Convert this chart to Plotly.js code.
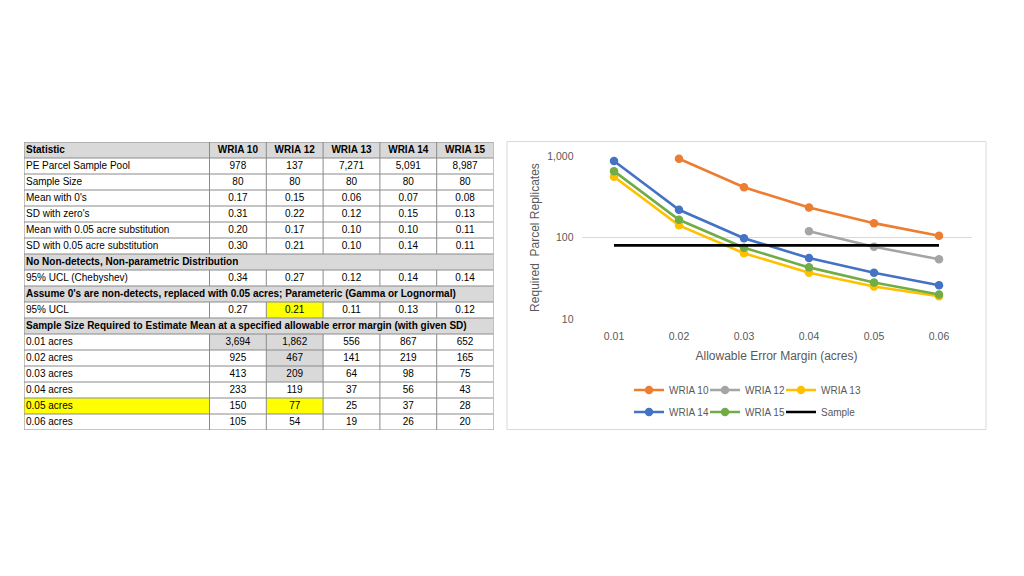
<!DOCTYPE html>
<html>
<head>
<meta charset="utf-8">
<script src="https://cdn.plot.ly/plotly-3.0.1.min.js"></script>
<style>html,body{margin:0;padding:0;background:#fff;}#chart{width:1024px;height:576px;}</style>
</head>
<body>
<div id="chart"></div>
<script>
// ---------- DATA ----------
const wrias = ['WRIA 10', 'WRIA 12', 'WRIA 13', 'WRIA 14', 'WRIA 15'];
const statLabels = ['PE Parcel Sample Pool', 'Sample Size', "Mean with 0's", "SD with zero's",
  'Mean with 0.05 acre substitution', 'SD with 0.05 acre substitution'];
const samplePool = [978, 137, 7271, 5091, 8987];
const sampleSize = [80, 80, 80, 80, 80];
const meanWithZeros = [0.17, 0.15, 0.06, 0.07, 0.08];
const sdWithZeros = [0.31, 0.22, 0.12, 0.15, 0.13];
const meanSubstituted = [0.20, 0.17, 0.10, 0.10, 0.11];
const sdSubstituted = [0.30, 0.21, 0.10, 0.14, 0.11];
const section1 = 'No Non-detects, Non-parametric Distribution';
const uclChebyshevLabel = '95% UCL (Chebyshev)';
const uclChebyshev = [0.34, 0.27, 0.12, 0.14, 0.14];
const section2 = "Assume 0's are non-detects, replaced with 0.05 acres; Parameteric (Gamma or Lognormal)";
const uclParamLabel = '95% UCL';
const uclParametric = [0.27, 0.21, 0.11, 0.13, 0.12];
const section3 = 'Sample Size Required to Estimate Mean at a specified allowable error margin (with given SD)';
const errorMargins = [0.01, 0.02, 0.03, 0.04, 0.05, 0.06];
const marginLabels = ['0.01 acres', '0.02 acres', '0.03 acres', '0.04 acres', '0.05 acres', '0.06 acres'];
const required10 = [3694, 925, 413, 233, 150, 105];
const required12 = [1862, 467, 209, 119, 77, 54];
const required13 = [556, 141, 64, 37, 25, 19];
const required14 = [867, 219, 98, 56, 37, 26];
const required15 = [652, 165, 75, 43, 28, 20];
// values left out of the chart (shaded grey in the table): index lists per WRIA
const excluded10 = [0];
const excluded12 = [0, 1, 2];
const sampleLine = [80, 80, 80, 80, 80, 80];
const axisTitleX = 'Allowable Error Margin (acres)';
const axisTitleY = 'Required  Parcel Replicates';

// ---------- TABLE GEOMETRY (layout) ----------
const firstColW = 185.5, colW = 56.8;
const tableW = firstColW + colW * wrias.length;
const colEdges = [0, firstColW];
for (let i = 1; i <= wrias.length; i++) colEdges.push(firstColW + colW * i);
const colCenters = wrias.map((_, i) => firstColW + colW * (i + 0.5));

const fmt2 = v => v.toFixed(2);
const fmtInt = v => v.toLocaleString('en-US');

const requiredAll = [required10, required12, required13, required14, required15];
const excludedAll = [excluded10, excluded12, [], [], []];
const rows = [];
rows.push({type: 'header', label: 'Statistic', values: wrias});
rows.push({type: 'data', label: statLabels[0], values: samplePool.map(fmtInt)});
rows.push({type: 'data', label: statLabels[1], values: sampleSize.map(fmtInt)});
rows.push({type: 'data', label: statLabels[2], values: meanWithZeros.map(fmt2)});
rows.push({type: 'data', label: statLabels[3], values: sdWithZeros.map(fmt2)});
rows.push({type: 'data', label: statLabels[4], values: meanSubstituted.map(fmt2)});
rows.push({type: 'data', label: statLabels[5], values: sdSubstituted.map(fmt2)});
rows.push({type: 'section', label: section1});
rows.push({type: 'data', label: uclChebyshevLabel, values: uclChebyshev.map(fmt2)});
rows.push({type: 'section', label: section2});
rows.push({type: 'data', label: uclParamLabel, values: uclParametric.map(fmt2), yellow: [1]});
rows.push({type: 'section', label: section3});
errorMargins.forEach((m, j) => {
  const r = {type: 'data', label: marginLabels[j], values: requiredAll.map(a => fmtInt(a[j])), grey: [], yellow: []};
  excludedAll.forEach((ex, c) => { if (ex.includes(j)) r.grey.push(c); });
  if (m === 0.05) { r.yellow = [1]; r.labelYellow = true; }
  rows.push(r);
});
const nRows = rows.length;

const GREY = '#d9d9d9', YELLOW = '#ffff00', BORDER = '#8a8a8a';
const shapes = [];
function rect(x0, x1, y0, y1, color) {
  shapes.push({type: 'rect', xref: 'x2', yref: 'y2', x0, x1, y0, y1, fillcolor: color, line: {width: 0}, layer: 'below'});
}
function line(x0, x1, y0, y1) {
  shapes.push({type: 'line', xref: 'x2', yref: 'y2', x0, x1, y0, y1, line: {color: BORDER, width: 1}, layer: 'below'});
}
rows.forEach((r, i) => {
  if (r.type === 'header' || r.type === 'section') rect(0, tableW, i, i + 1, GREY);
  if (r.labelYellow) rect(colEdges[0], colEdges[1], i, i + 1, YELLOW);
  (r.grey || []).forEach(c => rect(colEdges[c + 1], colEdges[c + 2], i, i + 1, GREY));
  (r.yellow || []).forEach(c => rect(colEdges[c + 1], colEdges[c + 2], i, i + 1, YELLOW));
});
for (let i = 0; i <= nRows; i++) line(0, tableW, i, i);
rows.forEach((r, i) => {
  if (r.type === 'section') { line(0, 0, i, i + 1); line(tableW, tableW, i, i + 1); }
  else colEdges.forEach(x => line(x, x, i, i + 1));
});

const TFONT = 'Liberation Sans, Arial, sans-serif';
const tableTraces = [];
const lblX = [], lblY = [], lblT = [], boldX = [], boldY = [], boldT = [];
rows.forEach((r, i) => {
  if (r.type === 'header' || r.type === 'section') { boldX.push(2); boldY.push(i + 0.5); boldT.push('<b>' + r.label + '</b>'); }
  else { lblX.push(2); lblY.push(i + 0.5); lblT.push(r.label); }
});
tableTraces.push({type: 'scatter', mode: 'text', x: lblX, y: lblY, text: lblT, textposition: 'middle right',
  textfont: {family: TFONT, size: 10, color: '#000'}, xaxis: 'x2', yaxis: 'y2', showlegend: false, hoverinfo: 'skip', cliponaxis: false});
tableTraces.push({type: 'scatter', mode: 'text', x: boldX, y: boldY, text: boldT, textposition: 'middle right',
  textfont: {family: TFONT, size: 10, color: '#000'}, xaxis: 'x2', yaxis: 'y2', showlegend: false, hoverinfo: 'skip', cliponaxis: false});
const vX = [], vY = [], vT = [];
rows.forEach((r, i) => {
  if (!r.values) return;
  r.values.forEach((v, c) => { vX.push(colCenters[c]); vY.push(i + 0.5); vT.push(r.type === 'header' ? '<b>' + v + '</b>' : v); });
});
tableTraces.push({type: 'scatter', mode: 'text', x: vX, y: vY, text: vT, textposition: 'middle center',
  textfont: {family: TFONT, size: 10, color: '#000'}, xaxis: 'x2', yaxis: 'y2', showlegend: false, hoverinfo: 'skip', cliponaxis: false});

// ---------- CHART ----------
const masked = (arr, ex) => arr.map((v, i) => ex.includes(i) ? null : v);
const seriesColors = ['#ED7D31', '#A5A5A5', '#FFC000', '#4472C4', '#70AD47'];
const legendIds = ['legend', 'legend2', 'legend3', 'legend4', 'legend5', 'legend6'];
const chartTraces = wrias.map((name, k) => ({
  type: 'scatter', mode: 'lines+markers', name,
  x: errorMargins, y: masked(requiredAll[k], excludedAll[k]),
  line: {color: seriesColors[k], width: 2.6}, marker: {color: seriesColors[k], size: 8.5, symbol: 'circle'},
  legend: legendIds[k], connectgaps: false, hoverinfo: 'x+y+name', cliponaxis: false
}));
chartTraces.push({type: 'scatter', mode: 'lines', name: 'Sample', x: errorMargins, y: sampleLine,
  line: {color: '#000', width: 2.6}, legend: legendIds[5]});

const W = 1024, H = 576;
const CFONT = 'Liberation Sans, Arial, sans-serif';
shapes.push({type: 'rect', xref: 'paper', yref: 'paper', x0: 507 / W, x1: 986 / W, y0: 1 - 429.5 / H, y1: 1 - 141.5 / H,
  line: {color: '#d9d9d9', width: 1}, fillcolor: 'rgba(0,0,0,0)', layer: 'below'});

const legendCommon = {orientation: 'h', xanchor: 'left', yanchor: 'middle', bgcolor: 'rgba(0,0,0,0)',
  font: {family: CFONT, size: 10, color: '#595959'}, itemclick: false, itemdoubleclick: false, itemwidth: 30};
const legendCols = [629, 705, 781];
const legendRows = [390, 412];

const layout = {
  width: W, height: H, margin: {l: 0, r: 0, t: 0, b: 0},
  paper_bgcolor: '#fff', plot_bgcolor: 'rgba(0,0,0,0)', showlegend: true,
  font: {family: CFONT, color: '#595959'},
  xaxis: {domain: [581.5 / W, 971.5 / W], anchor: 'y', range: [0.005, 0.065], tickvals: errorMargins, tickformat: '.2f',
    showgrid: false, zeroline: false, showline: false, ticks: '', ticklabelstandoff: 9,
    tickfont: {family: CFONT, size: 10.5, color: '#595959'},
    title: {text: axisTitleX, font: {family: CFONT, size: 12, color: '#595959'}, standoff: 11}, fixedrange: true},
  yaxis: {domain: [1 - 319 / H, 1 - 156 / H], anchor: 'x', type: 'log', range: [1, 3], dtick: 1, tickformat: ',.0f',
    showgrid: true, gridcolor: '#d9d9d9', gridwidth: 1, zeroline: false, showline: false, ticks: '', ticklabelstandoff: 7,
    tickfont: {family: CFONT, size: 10.5, color: '#595959'},
    title: {text: axisTitleY, font: {family: CFONT, size: 12, color: '#595959'}, standoff: 5}, fixedrange: true},
  xaxis2: {domain: [24 / W, (24 + tableW) / W], anchor: 'y2', range: [0, tableW], visible: false, fixedrange: true},
  yaxis2: {domain: [1 - 430 / H, 1 - 142 / H], anchor: 'x2', range: [nRows, 0], visible: false, fixedrange: true},
  shapes
};
legendIds.forEach((id, k) => {
  layout[id] = Object.assign({}, legendCommon, {x: legendCols[k % 3] / W, y: 1 - legendRows[Math.floor(k / 3)] / H});
});

Plotly.newPlot('chart', tableTraces.concat(chartTraces), layout, {displayModeBar: false});
</script>
</body>
</html>
